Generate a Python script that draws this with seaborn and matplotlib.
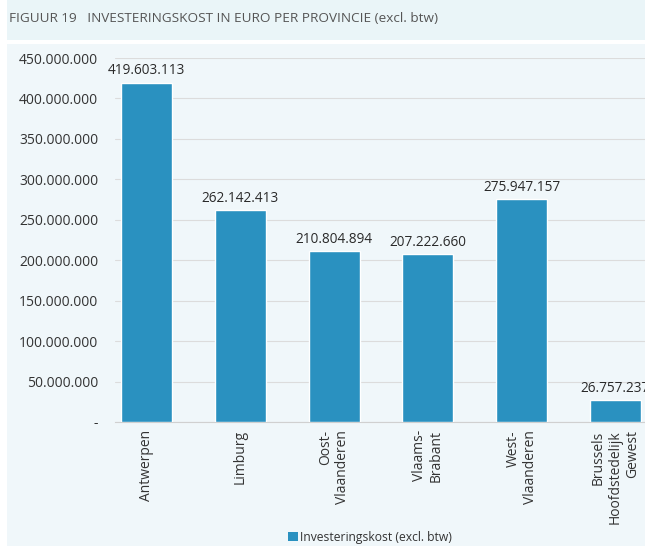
import matplotlib
matplotlib.use("Agg")
import matplotlib.pyplot as plt
from matplotlib.patches import Rectangle, Patch
import seaborn as sns
import pandas as pd

provinces = ["Antwerpen", "Limburg", "Oost-\nVlaanderen", "Vlaams-\nBrabant",
             "West-\nVlaanderen", "Brussels\nHoofdstedelijk\nGewest"]
values = [419603113, 262142413, 210804894, 207222660, 275947157, 26757237]
value_labels = ["419.603.113", "262.142.413", "210.804.894", "207.222.660",
                "275.947.157", "26.757.237"]
ytick_values = [0, 50e6, 100e6, 150e6, 200e6, 250e6, 300e6, 350e6, 400e6, 450e6]
ytick_labels = ["-", "50.000.000", "100.000.000", "150.000.000", "200.000.000",
                "250.000.000", "300.000.000", "350.000.000", "400.000.000", "450.000.000"]
series_name = "Investeringskost (excl. btw)"
title = "FIGUUR 19   INVESTERINGSKOST IN EURO PER PROVINCIE (excl. btw)"

sns.set_theme(style="white")
plt.rcParams["font.family"] = ["Open Sans", "DejaVu Sans"]

W, H = 645, 546
fig = plt.figure(figsize=(W / 100, H / 100), dpi=100)
fig.patch.set_facecolor("white")
# title band and panel
fig.patches.append(Rectangle((7 / W, 1 - 40 / H), 1, 40 / H, transform=fig.transFigure,
                             facecolor="#EAF5F8", edgecolor="none", zorder=-10))
fig.patches.append(Rectangle((7 / W, 0), 1, 1 - 44 / H, transform=fig.transFigure,
                             facecolor="#F0F7FA", edgecolor="none", zorder=-10))
fig.text(9 / W, 1 - 19 / H, title, fontsize=9.7, color="#555555", va="center", ha="left")

ax = fig.add_axes([115 / W, (H - 422) / H, 532 / W, 364 / H])
ax.set_facecolor("none")
ax.set_zorder(1)

df = pd.DataFrame({"provincie": provinces, "waarde": values})
sns.barplot(data=df, x="provincie", y="waarde", color="#2A91C0", saturation=1,
            width=0.545, ax=ax, zorder=3)

ax.set_xlim(-0.336, 5.336)
ax.set_ylim(0, 450e6)
ax.set_yticks(ytick_values)
ax.set_yticklabels(ytick_labels, fontsize=10, color="#333333")
ax.yaxis.grid(True, color="#DCDCDC", linewidth=0.8, zorder=0)
ax.set_axisbelow(True)
ax.tick_params(axis="y", length=0, pad=12)
ax.tick_params(axis="x", length=0, pad=6)
for lbl in ax.get_xticklabels():
    lbl.set_rotation(90)
    lbl.set_fontsize(10)
    lbl.set_color("#333333")
    lbl.set_ha("center")
    lbl.set_va("top")
    lbl.set_multialignment("right")
ax.set_xlabel("")
ax.set_ylabel("")
for s in ["top", "right", "left"]:
    ax.spines[s].set_visible(False)
ax.spines["bottom"].set_color("#D0D0D0")
ax.spines["bottom"].set_linewidth(0.8)

for patch, txt in zip(ax.patches, value_labels):
    ax.annotate(txt, (patch.get_x() + patch.get_width() / 2, patch.get_height()),
                xytext=(0, 3), textcoords="offset points", ha="center", va="bottom",
                fontsize=9.8, color="#2a2a2a", annotation_clip=False)

handle = Patch(facecolor="#2A91C0", edgecolor="none")
fig.legend([handle], [series_name], loc="center", bbox_to_anchor=(370 / W, 1 - 537 / H),
           frameon=False, fontsize=8.7, handlelength=0.8, handleheight=0.8,
           handletextpad=0.2, labelcolor="#333333")

fig.savefig("out.png", dpi=100, facecolor=fig.get_facecolor())
